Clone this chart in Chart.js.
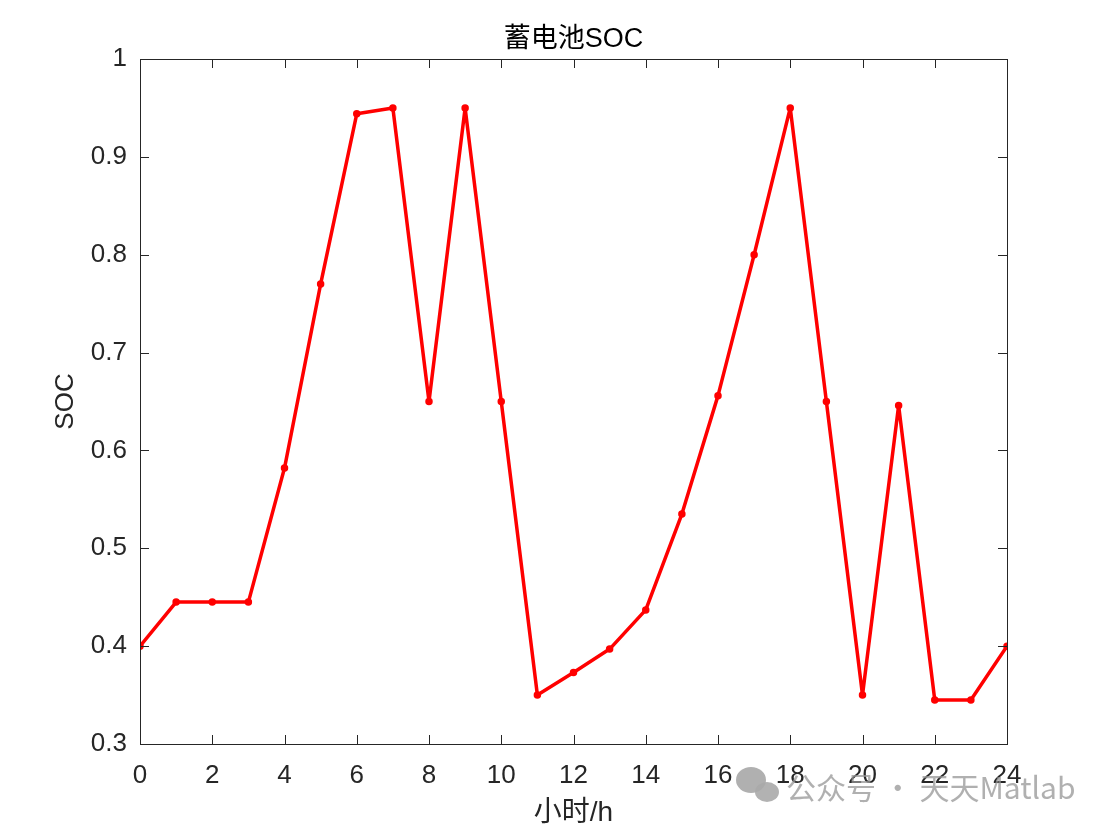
<!DOCTYPE html>
<html lang="zh">
<head>
    <meta charset="UTF-8">
    <title>蓄电池SOC</title>
    <script src="https://cdn.jsdelivr.net/npm/chart.js"></script>
    <style>
        html, body { margin: 0; padding: 0; background: #fff; }
        #wrap { width: 1109px; height: 830px; }
    </style>
</head>
<body>
    <div id="wrap"><canvas id="socChart"></canvas></div>

    <script>
        // 数据
        const hours = [0,1,2,3,4,5,6,7,8,9,10,11,12,13,14,15,16,17,18,19,20,21,22,23,24];
        const socValues = [0.40,0.445,0.445,0.445,0.582,0.77,0.944,0.95,0.65,0.95,0.65,0.35,0.373,0.397,0.437,0.535,0.656,0.80,0.95,0.65,0.35,0.646,0.345,0.345,0.40];
        const xTicks = [0,2,4,6,8,10,12,14,16,18,20,22,24];
        const yTicks = [0.3,0.4,0.5,0.6,0.7,0.8,0.9,1];

        const axisColor = '#262626';
        const fontFamily = '"Liberation Sans", Arial, "Noto Sans CJK SC", sans-serif';

        // MATLAB 风格：方框 + 内向刻度 + 标题 + 水印
        const boxPlugin = {
            id: 'boxPlugin',
            afterDraw(chart) {
                const ctx = chart.ctx;
                const a = chart.chartArea;
                const xs = chart.scales.x, ys = chart.scales.y;
                const len = 9;
                ctx.save();
                ctx.strokeStyle = axisColor;
                ctx.lineWidth = 1;
                ctx.strokeRect(Math.round(a.left) + 0.5, Math.round(a.top) + 0.5,
                    Math.round(a.right - a.left), Math.round(a.bottom - a.top));
                ctx.beginPath();
                xTicks.forEach(v => {
                    const px = Math.round(xs.getPixelForValue(v)) + 0.5;
                    ctx.moveTo(px, a.bottom); ctx.lineTo(px, a.bottom - len);
                    ctx.moveTo(px, a.top); ctx.lineTo(px, a.top + len);
                });
                yTicks.forEach(v => {
                    const py = Math.round(ys.getPixelForValue(v)) + 0.5;
                    ctx.moveTo(a.left, py); ctx.lineTo(a.left + len, py);
                    ctx.moveTo(a.right, py); ctx.lineTo(a.right - len, py);
                });
                ctx.stroke();

                // 标题（居中于绘图区）
                ctx.fillStyle = '#000';
                ctx.font = '27px ' + fontFamily;
                ctx.textAlign = 'center';
                ctx.textBaseline = 'middle';
                ctx.fillText('蓄电池SOC', (a.left + a.right) / 2, 40);

                // 水印
                ctx.fillStyle = 'rgba(150,150,150,0.75)';
                ctx.beginPath();
                ctx.ellipse(751, 780, 15, 13, 0, 0, Math.PI * 2);
                ctx.fill();
                ctx.fillStyle = 'rgba(170,170,170,0.9)';
                ctx.beginPath();
                ctx.ellipse(767, 792, 12, 10, 0, 0, Math.PI * 2);
                ctx.fill();
                ctx.fillStyle = 'rgba(150,150,150,0.75)';
                ctx.font = '30px "Noto Sans CJK SC", sans-serif';
                ctx.textAlign = 'left';
                ctx.fillText('公众号 · 天天Matlab', 786, 788);
                ctx.restore();
            }
        };

        const ctx = document.getElementById('socChart').getContext('2d');
        new Chart(ctx, {
            type: 'line',
            data: {
                datasets: [{
                    label: 'SOC',
                    data: hours.map((h, i) => ({ x: h, y: socValues[i] })),
                    borderColor: '#ff0000',
                    backgroundColor: '#ff0000',
                    borderWidth: 3.5,
                    borderJoinStyle: 'round',
                    borderCapStyle: 'round',
                    pointRadius: 2,
                    pointHoverRadius: 2,
                    tension: 0,
                    fill: false
                }]
            },
            options: {
                responsive: true,
                maintainAspectRatio: false,
                animation: false,
                layout: { padding: { left: 0, right: 102, top: 59, bottom: 0 } },
                plugins: {
                    legend: { display: false },
                    tooltip: { enabled: false },
                    title: { display: false }
                },
                scales: {
                    x: {
                        type: 'linear',
                        min: 0,
                        max: 24,
                        afterFit(scale) { scale.height = 86; },
                        afterBuildTicks(scale) { scale.ticks = xTicks.map(v => ({ value: v })); },
                        grid: { display: false },
                        border: { display: false },
                        ticks: {
                            color: axisColor,
                            padding: 8,
                            font: { family: fontFamily, size: 26 }
                        },
                        title: {
                            display: true,
                            text: '小时/h',
                            color: axisColor,
                            font: { family: fontFamily, size: 28 },
                            padding: { top: 0, bottom: 0 }
                        }
                    },
                    y: {
                        min: 0.3,
                        max: 1,
                        afterFit(scale) { scale.width = 140; },
                        afterBuildTicks(scale) { scale.ticks = yTicks.map(v => ({ value: v })); },
                        grid: { display: false },
                        border: { display: false },
                        ticks: {
                            color: axisColor,
                            padding: 5,
                            font: { family: fontFamily, size: 26 },
                            callback: v => String(Math.round(v * 10) / 10)
                        },
                        title: {
                            display: true,
                            text: 'SOC',
                            color: axisColor,
                            font: { family: fontFamily, size: 26 },
                            padding: { top: 50, bottom: 0 }
                        }
                    }
                }
            },
            plugins: [boxPlugin]
        });
    </script>
</body>
</html>
